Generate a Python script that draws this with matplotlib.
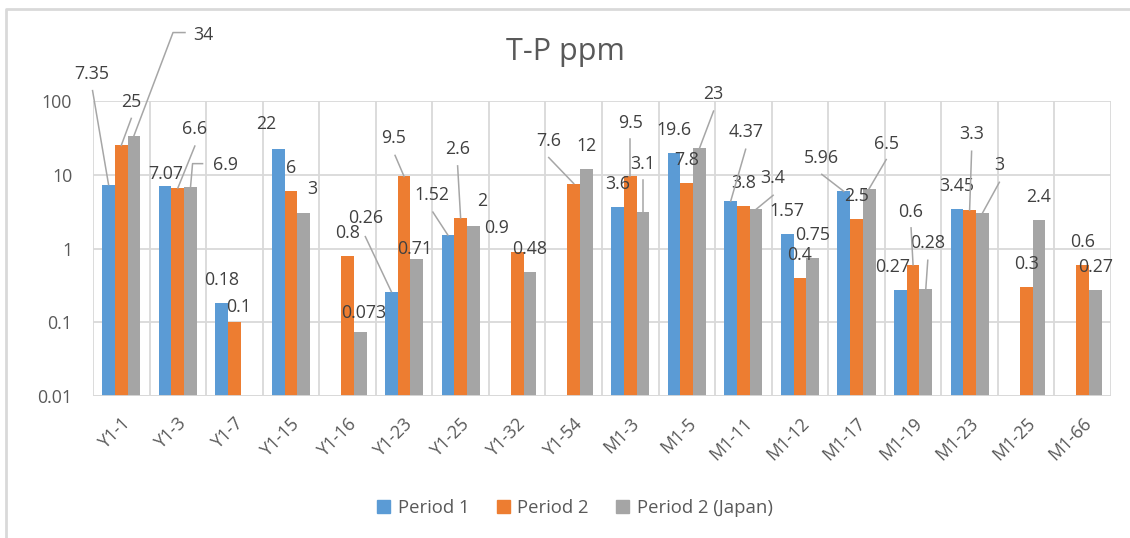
import numpy as np
import matplotlib
matplotlib.use('Agg')
import matplotlib.pyplot as plt
from matplotlib.lines import Line2D
from matplotlib.patches import Patch
from matplotlib.transforms import IdentityTransform

plt.rcParams['font.family'] = ['Open Sans', 'DejaVu Sans']

categories = ['Y1-1', 'Y1-3', 'Y1-7', 'Y1-15', 'Y1-16', 'Y1-23', 'Y1-25', 'Y1-32', 'Y1-54',
              'M1-3', 'M1-5', 'M1-11', 'M1-12', 'M1-17', 'M1-19', 'M1-23', 'M1-25', 'M1-66']
nan = np.nan
period1 = [7.35, 7.07, 0.18, 22, nan, 0.26, 1.52, nan, nan,
           3.6, 19.6, 4.37, 1.57, 5.96, 0.27, 3.45, nan, nan]
period2 = [25, 6.6, 0.1, 6, 0.8, 9.5, 2.6, 0.9, 7.6,
           9.5, 7.8, 3.8, 0.4, 2.5, 0.6, 3.3, 0.3, 0.6]
period2_japan = [34, 6.9, nan, 3, 0.073, 0.71, 2, 0.48, 12,
                 3.1, 23, 3.4, 0.75, 6.5, 0.28, 3, 2.4, 0.27]
series_names = ['Period 1', 'Period 2', 'Period 2 (Japan)']
colors = ['#5B9BD5', '#ED7D31', '#A5A5A5']

# label placement: (series, category) -> (dx, dy, leader points), pixels from bar top, y down
label_pos = {
    (0, 0): (-17, -111, [(-16, -94)]),
    (1, 0): (10, -43, [(10, -27)]),
    (2, 0): (69, -101, [(51, -103), (39, -103)]),
    (0, 1): (1, -12, None),
    (1, 1): (17, -59, [(17, -42)]),
    (2, 1): (35, -22, [(12, -23), (2, -23)]),
    (1, 2): (4, -15, None),
    (0, 3): (-12, -25, None),
    (2, 3): (9, -24, None),
    (2, 4): (3, -19, None),
    (0, 5): (-26, -74, [(-26, -55)]),
    (1, 5): (-10, -38, [(-9, -21)]),
    (2, 5): (-2, -10, None),
    (0, 6): (-16, -40, [(-15, -23)]),
    (1, 6): (-3, -69, [(-3, -52)]),
    (2, 6): (9, -25, None),
    (1, 7): (-21, -24, None),
    (1, 8): (-25, -43, [(-25, -26)]),
    (1, 9): (0, -53, [(0, -37)]),
    (2, 9): (0, -48, [(0, -32)]),
    (2, 10): (14, -54, [(14, -37)]),
    (0, 11): (15, -69, [(15, -52)]),
    (2, 11): (17, -31, [(17, -14)]),
    (0, 13): (-22, -33, [(-22, -17)]),
    (2, 13): (17, -45, [(17, -29)]),
    (0, 14): (-8, -23, None),
    (1, 14): (-2, -53, [(-2, -37)]),
    (2, 14): (2, -46, [(2, -29)]),
    (1, 15): (2, -76, [(2, -59)]),
    (2, 15): (17, -48, [(17, -31)]),
}

W, H = 1130, 538
fig = plt.figure(figsize=(W / 100, H / 100), dpi=100)
ax = fig.add_axes([93 / W, 1 - 396 / H, (1111 - 93) / W, (396 - 101) / H])

grid_c = '#D9D9D9'
ax.set_yscale('log')
ax.set_ylim(0.01, 100)
ax.set_xlim(-0.5, len(categories) - 0.5)

x = np.arange(len(categories))
bw = 0.225
all_series = [period1, period2, period2_japan]
for s, vals in enumerate(all_series):
    ax.bar(x + (s - 1) * bw, vals, bw, color=colors[s], zorder=3, label=series_names[s])

ax.set_yticks([0.01, 0.1, 1, 10, 100])
ax.set_yticklabels(['0.01', '0.1', '1', '10', '100'])
ax.yaxis.set_minor_locator(matplotlib.ticker.NullLocator())
ax.set_xticks(x)
ax.set_xticklabels(categories, rotation=45, ha='right', rotation_mode='anchor')
ax.tick_params(axis='both', length=0, labelsize=12.8, labelcolor='#595959')
ax.tick_params(axis='y', pad=15)
ax.tick_params(axis='x', pad=13)
for xb in np.arange(-0.5, len(categories), 1.0):
    ax.axvline(xb, color=grid_c, lw=1.3, zorder=1)
ax.yaxis.grid(True, color=grid_c, lw=1.3, zorder=1)
for sp in ax.spines.values():
    sp.set_visible(False)
ax.axhline(0.01, color=grid_c, lw=2, zorder=4)

# data labels
for s, vals in enumerate(all_series):
    for i, v in enumerate(vals):
        if np.isnan(v):
            continue
        xb = x[i] + (s - 1) * bw
        dx, dy, leader = label_pos.get((s, i), (0, -23, None))
        ax.annotate(f'{v:g}', xy=(xb, v), xytext=(dx, -dy), textcoords='offset pixels',
                    ha='center', va='center', fontsize=12.8, color='#404040', zorder=6)
        if leader:
            px, py = ax.transData.transform((xb, v))
            pts = leader + [(0, 0)]
            fig.add_artist(Line2D([px + p[0] for p in pts], [py - p[1] for p in pts],
                                  color='#A6A6A6', lw=1.1, transform=IdentityTransform(), zorder=5))

fig.text(565 / W, 1 - 52 / H, 'T-P ppm', ha='center', va='center', fontsize=22, color='#595959')

handles = [Patch(color=c) for c in colors]
fig.legend(handles, series_names, loc='center', bbox_to_anchor=(575 / W, 1 - 508 / H), ncol=3,
           frameon=False, fontsize=13.3, labelcolor='#595959', handlelength=0.7, handleheight=0.7,
           handletextpad=0.4, columnspacing=1.5)

# chart border
fig.add_artist(Line2D([6, 6, W], [0, H - 9, H - 9], color=grid_c, lw=2, transform=IdentityTransform()))

fig.savefig('out.png', dpi=100)
